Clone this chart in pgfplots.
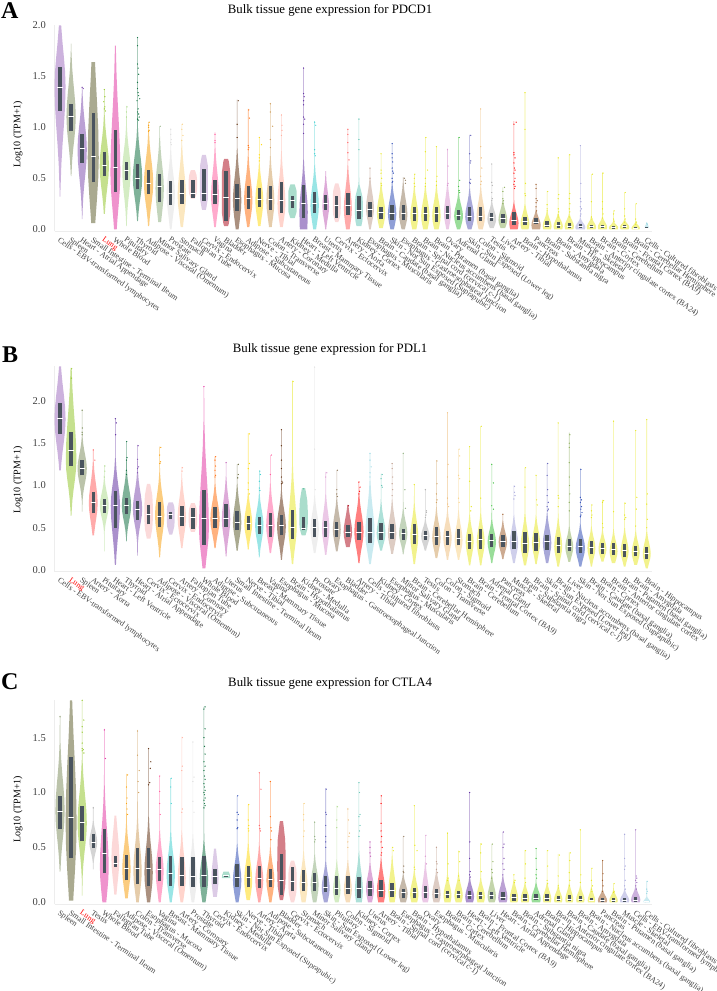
\documentclass[border=0pt]{standalone}
\usepackage{fontspec}
\setmainfont{Liberation Serif}
\usepackage{pgfplots}
\usepackage{pgfplotstable}
\pgfplotsset{compat=1.18}

% tissue colours
\definecolor{ebv}{HTML}{9966BB}\definecolor{spl}{HTML}{778855}\definecolor{haa}{HTML}{7744AA}
\definecolor{sit}{HTML}{555522}\definecolor{lng}{HTML}{8CC21E}\definecolor{wbl}{HTML}{E0289B}
\definecolor{pit}{HTML}{AAD988}\definecolor{thy}{HTML}{006633}\definecolor{adv}{HTML}{F79A00}
\definecolor{msg}{HTML}{88AA77}\definecolor{pro}{HTML}{DDDDDD}\definecolor{sto}{HTML}{F7CF80}
\definecolor{fal}{HTML}{F9B1B1}\definecolor{end}{HTML}{B998CE}\definecolor{vag}{HTML}{FF5599}
\definecolor{bla}{HTML}{AA0011}\definecolor{muc}{HTML}{552200}\definecolor{ads}{HTML}{FF6600}
\definecolor{ner}{HTML}{FFD700}\definecolor{cot}{HTML}{CC9955}\definecolor{cor}{HTML}{FFAA99}
\definecolor{kim}{HTML}{55BB99}\definecolor{lve}{HTML}{552299}\definecolor{bre}{HTML}{33CCCC}
\definecolor{ute}{HTML}{BB55B1}\definecolor{ect}{HTML}{F8B5B5}\definecolor{aor}{HTML}{FF5555}
\definecolor{kic}{HTML}{5BC1B1}\definecolor{mus}{HTML}{BB9988}\definecolor{gej}{HTML}{8B7355}
\definecolor{bra}{HTML}{E5E519}\definecolor{nse}{HTML}{2040B0}\definecolor{ova}{HTML}{D791CD}
\definecolor{adr}{HTML}{33BB33}\definecolor{sse}{HTML}{5151B1}\definecolor{cos}{HTML}{EEBB77}
\definecolor{tes}{HTML}{AAAAAA}\definecolor{liv}{HTML}{88AA55}\definecolor{tib}{HTML}{FF0000}
\definecolor{pan}{HTML}{995522}\definecolor{skm}{HTML}{9F9FD7}\definecolor{fib}{HTML}{93D5E1}
\definecolor{boxc}{HTML}{4A545E}

% lo/hi: ends of the violin, mo: widest level, hw: half width, sl/su: spread below/above, qa/med/qc: box
\pgfplotstableread{
c lo hi mo hw sl su p qa med qc
ebv .32 2.0 1.4 .5 .4 .3 2 1.16 1.39 1.59
spl .52 1.82 1.1 .42 .22 .25 2 .96 1.11 1.23
haa .10 1.40 .78 .42 .24 .22 2 .65 .79 .93
sit .06 1.64 .7 .5 .4 .55 2 .46 .71 1.14
lng .15 1.37 .62 .42 .2 .2 2 .52 .63 .76
wbl 0 1.80 .55 .45 .3 .5 2 .37 .61 .97
pit .03 1.21 .57 .38 .2 .18 2 .48 .58 .66
thy .08 1.88 .5 .42 .17 .2 2 .39 .50 .64
adv .03 1.05 .45 .42 .18 .2 2 .35 .45 .58
msg .07 1.01 .4 .38 .2 .2 2 .27 .42 .54
pro 0 .99 .34 .38 .17 .18 2 .24 .35 .47
sto .02 1.03 .33 .38 .17 .2 2 .25 .35 .48
fal .30 .58 .44 .38 .15 .15 4 .31 .35 .48
end .19 .73 .46 .36 .28 .28 6 .28 .35 .59
vag .02 .95 .32 .36 .15 .2 2 .25 .34 .48
bla .03 .69 .36 .38 .34 .34 8 .08 .31 .57
muc 0 1.27 .28 .38 .17 .2 2 .18 .30 .44
ads .02 1.18 .28 .38 .14 .18 2 .20 .30 .42
ner .03 .90 .28 .36 .14 .15 2 .22 .29 .40
cot .02 1.24 .27 .36 .15 .18 2 .19 .29 .42
cor .02 1.13 .25 .36 .14 .2 2 .16 .28 .46
kim .11 .44 .27 .38 .17 .18 6 .21 .28 .33
lve 0 1.59 .17 .38 .3 .2 2 .11 .25 .43
bre 0 1.06 .23 .38 .14 .16 2 .16 .25 .37
ute 0 .57 .22 .3 .1 .13 2 .19 .25 .34
ect .07 .45 .26 .36 .19 .19 5 .11 .23 .33
aor 0 .98 .2 .36 .14 .17 2 .14 .23 .36
kic .03 1.09 .2 .36 .2 .2 4 .10 .19 .33
mus 0 .60 .2 .36 .1 .13 2 .12 .20 .27
bra .01 .745 .16 .38 .1 .12 2 .10 .17 .22
nse 0 .84 .15 .38 .1 .12 2 .09 .16 .24
gej 0 .51 .14 .38 .09 .13 2 .09 .16 .235
bra 0 .54 .13 .36 .1 .12 2 .08 .16 .22
bra 0 .90 .13 .38 .1 .12 2 .085 .16 .22
bra 0 .81 .13 .38 .1 .12 2 .075 .16 .22
ova 0 .79 .15 .32 .09 .13 2 .10 .16 .23
adr 0 .90 .13 .4 .08 .09 2 .09 .14 .19
sse 0 .925 .12 .4 .08 .11 2 .085 .13 .22
cos 0 1.18 .12 .38 .09 .12 2 .085 .13 .22
tes .01 .64 .1 .4 .06 .07 2 .085 .12 .16
liv .01 .41 .09 .4 .06 .08 2 .065 .11 .15
tib 0 1.06 .06 .42 .08 .08 2 .04 .085 .17
bra 0 1.34 .05 .4 .06 .08 2 .04 .075 .12
pan 0 .44 .04 .42 .06 .06 2 .05 .065 .11
bra 0 .375 .03 .4 .05 .06 2 .02 .035 .08
bra 0 .70 .03 .42 .05 .05 2 .01 .04 .07
bra 0 .735 .03 .42 .05 .05 2 .01 .03 .06
skm 0 .82 .02 .45 .04 .035 2 .01 .025 .05
bra 0 .54 .02 .42 .04 .04 2 .01 .025 .04
bra 0 .555 .02 .42 .04 .04 2 .01 .025 .04
bra 0 .18 .015 .42 .03 .025 2 .005 .015 .03
bra 0 .36 .02 .42 .03 .03 2 .01 .025 .04
bra 0 .25 .01 .38 .02 .025 2 0 .01 .025
fib .01 .06 .02 .18 .02 .02 2 .01 .012 .02
}\tabA

\pgfplotstableread{
c lo hi mo hw sl su p qa med qc
ebv 1.18 2.41 1.78 .5 .27 .3 2 1.61 1.79 1.97
lng .64 2.39 1.3 .48 .25 .45 2 1.23 1.41 1.63
spl .69 1.90 1.2 .42 .15 .15 2 1.12 1.20 1.30
aor .41 1.43 .79 .4 .18 .2 2 .67 .80 .92
pit .22 1.24 .76 .4 .12 .13 2 .68 .77 .84
lve .06 1.79 .76 .42 .3 .22 2 .50 .77 .93
thy .34 1.52 .76 .42 .15 .17 2 .66 .77 .85
haa .17 1.48 .72 .42 .16 .18 2 .59 .72 .82
ect .37 1.02 .68 .38 .32 .34 4 .54 .66 .77
adv .15 1.46 .65 .42 .2 .2 2 .51 .64 .80
end .42 .80 .65 .36 .23 .17 4 .60 .655 .69
cor .26 1.22 .62 .38 .17 .19 2 .52 .63 .76
fal .45 .79 .62 .38 .18 .18 4 .49 .62 .73
wbl .02 2.17 .5 .45 .27 .5 2 .30 .61 .95
ads .26 1.34 .6 .42 .15 .17 2 .50 .61 .75
ute .16 1.28 .6 .38 .18 .2 2 .51 .61 .78
sit .23 1.25 .56 .38 .15 .18 2 .47 .56 .70
ner .24 1.62 .55 .36 .13 .15 2 .47 .55 .64
bre .15 1.18 .53 .38 .15 .15 2 .43 .53 .63
vag .2 1.36 .52 .38 .15 .2 2 .39 .53 .68
muc .12 1.66 .52 .4 .17 .17 2 .41 .53 .65
bra .07 2.24 .5 .38 .2 .3 2 .37 .51 .71
kim .41 .97 .6 .38 .2 .37 4 .47 .49 .63
pro .2 2.41 .48 .38 .14 .16 2 .39 .50 .60
ova .18 1.16 .49 .34 .15 .17 2 .39 .50 .58
gej .22 1.18 .48 .36 .13 .15 2 .39 .48 .57
bla .27 .77 .45 .38 .12 .14 2 .39 .45 .53
tib .08 1.045 .45 .42 .16 .18 2 .35 .45 .57
fib .07 1.38 .42 .42 .17 .26 2 .32 .45 .62
kic .23 1.14 .43 .4 .1 .15 2 .355 .44 .56
mus .19 1.26 .43 .38 .12 .16 2 .37 .44 .55
msg .185 1.38 .43 .38 .1 .12 2 .355 .43 .48
bra .07 1.01 .4 .36 .16 .16 2 .31 .42 .54
tes .23 .96 .4 .38 .08 .08 2 .355 .41 .46
cot .14 1.30 .38 .38 .12 .14 2 .30 .40 .505
cos .12 1.86 .38 .38 .12 .13 2 .30 .395 .465
sto .12 1.43 .35 .36 .11 .14 2 .29 .37 .49
bra .055 1.46 .33 .36 .13 .13 2 .25 .335 .43
bra .055 1.70 .33 .36 .13 .14 2 .25 .36 .48
adr .08 1.25 .33 .38 .11 .11 2 .275 .35 .43
pan .13 .66 .33 .38 .09 .1 2 .27 .335 .415
skm .08 1.0 .32 .38 .12 .13 2 .245 .335 .46
bra .055 1.21 .3 .38 .13 .15 2 .205 .32 .45
bra .07 1.12 .32 .36 .12 .13 2 .23 .325 .44
sse .08 1.26 .32 .38 .13 .14 2 .235 .335 .415
bra .04 1.74 .28 .36 .12 .14 2 .205 .295 .395
liv .095 1.625 .27 .36 .09 .1 2 .23 .285 .37
nse .04 1.2 .26 .42 .11 .11 2 .205 .275 .365
bra .04 .77 .26 .36 .1 .1 2 .195 .27 .345
bra .10 .83 .25 .36 .08 .09 2 .195 .255 .315
bra .08 1.77 .22 .36 .09 .1 2 .175 .245 .32
bra .04 .80 .22 .36 .09 .11 2 .15 .23 .31
bra .06 1.65 .21 .36 .09 .1 2 .16 .215 .28
bra .02 1.78 .19 .36 .09 .11 2 .13 .20 .27
}\tabB

\pgfplotstableread{
c lo hi mo hw sl su p qa med qc
spl .28 1.70 .83 .42 .22 .25 2 .67 .83 .97
sit .015 1.84 .72 .5 .45 .55 2 .40 .77 1.32
lng .06 1.84 .72 .42 .2 .23 2 .56 .73 .88
tes .30 .87 .55 .36 .08 .08 2 .495 .55 .62
wbl 0 1.58 .32 .4 .22 .3 2 .27 .45 .67
fal .07 .79 .4 .36 .18 .2 2 .325 .355 .42
adv .035 1.17 .3 .38 .15 .17 2 .20 .31 .43
cot 0 1.57 .28 .38 .16 .2 2 .17 .31 .495
muc 0 1.40 .27 .38 .17 .2 2 .15 .31 .495
vag 0 1.15 .28 .36 .15 .15 2 .19 .30 .41
bre 0 1.13 .25 .38 .13 .16 2 .15 .265 .42
cor 0 1.51 .22 .36 .13 .17 2 .15 .25 .41
pro 0 1.46 .22 .36 .13 .16 2 .14 .24 .41
thy 0 1.78 .22 .38 .14 .14 2 .135 .245 .42
end .05 .49 .22 .32 .13 .15 2 .165 .235 .30
kim .22 .28 .225 .38 .03 .05 2 .23 .245 .25
nse 0 .97 .2 .38 .12 .13 2 .14 .23 .35
ner .02 .89 .2 .36 .12 .14 2 .135 .23 .335
aor 0 1.18 .2 .36 .11 .13 2 .13 .22 .33
ads 0 1.10 .2 .36 .11 .12 2 .135 .21 .30
bla .02 .74 .32 .38 .3 .42 4 .07 .20 .44
ect 0 .38 .2 .38 .2 .18 4 .10 .19 .32
sto 0 .90 .16 .36 .12 .12 2 .10 .185 .29
msg 0 .735 .16 .36 .11 .11 2 .10 .18 .27
sse 0 1.04 .13 .36 .09 .1 2 .09 .14 .24
pit 0 .88 .11 .34 .08 .11 2 .065 .13 .24
cos 0 .86 .11 .36 .08 .11 2 .075 .13 .24
kic 0 1.09 .11 .36 .12 .14 2 .04 .125 .23
ute 0 .55 .12 .36 .09 .1 2 .06 .13 .195
tib 0 .97 .1 .38 .1 .12 2 .05 .11 .20
bra 0 .50 .1 .34 .1 .13 2 .05 .105 .18
gej 0 .60 .08 .4 .07 .07 2 .035 .095 .12
bra 0 .88 .07 .38 .07 .09 2 .035 .09 .13
ova 0 .61 .07 .34 .07 .12 2 .035 .09 .15
mus 0 .51 .07 .38 .07 .09 2 .035 .08 .12
bra 0 .63 .06 .36 .07 .08 2 .035 .075 .10
bra 0 .47 .06 .38 .06 .08 2 .035 .07 .105
lve 0 1.0 .05 .4 .06 .07 2 .03 .065 .10
bra 0 .54 .05 .38 .06 .07 2 .03 .06 .09
liv 0 .53 .05 .38 .05 .08 2 .03 .06 .095
haa 0 .64 .04 .42 .05 .08 2 .02 .045 .095
bra 0 .255 .035 .38 .05 .07 2 .015 .045 .08
bra 0 .475 .03 .38 .05 .06 2 .015 .04 .08
adr 0 .49 .03 .42 .05 .06 2 .02 .04 .08
bra 0 .475 .03 .38 .05 .06 2 .015 .035 .075
bra 0 .44 .025 .38 .04 .05 2 .015 .03 .06
bra 0 .455 .025 .36 .04 .06 2 .015 .03 .065
bra 0 .665 .025 .38 .04 .05 2 .015 .03 .06
bra 0 .31 .015 .34 .03 .05 2 .01 .015 .04
pan 0 .385 .015 .42 .03 .04 2 .005 .015 .04
bra 0 .17 .015 .38 .03 .04 2 .005 .015 .035
skm 0 .62 .015 .42 .03 .04 2 .005 .015 .035
ebv 0 .66 .02 .42 .03 .05 2 .005 .02 .05
fib 0 .195 .005 .3 .01 .02 2 0 .005 .015
}\tabC

\newcommand\addpt[1]{%
  \pgfmathsetmacro\yy{#1}%
  \pgfmathsetmacro\dd{abs(\yy-\vmo)/(\yy<\vmo?\vsl:\vsu)/\kk}%
  \pgfmathsetmacro\ww{max(\vhw*exp(-min(pow(\dd,\vp),9)),0.025)}%
  \pgfmathsetmacro\xl{\i-\ww}\pgfmathsetmacro\xr{\i+\ww}%
  \xdef\ptsL{\ptsL(\xl,\yy)}\xdef\ptsR{(\xr,\yy)\ptsR}}
\newcommand\violins[1]{%
  \def\getcol##1{\pgfplotstablegetelem{\i}{##1}\of#1\expandafter\let\csname v##1\endcsname\pgfplotsretval}%
  \foreach \i in {0,...,53}{%
    \getcol{c}\getcol{lo}\getcol{hi}\getcol{mo}\getcol{hw}\getcol{sl}\getcol{su}\getcol{p}\getcol{qa}\getcol{med}\getcol{qc}%
    \pgfmathsetmacro\kk{\vp==2?1.6:1}%
    \gdef\ptsL{}\gdef\ptsR{}%
    \addpt{\vlo}%
    \foreach \t in {2.5,2,1.6,1.2,.9,.6,.3}{\pgfmathsetmacro\ty{\vmo-\kk*\vsl*\t}\pgfmathtruncatemacro\ok{\ty>\vlo?1:0}\ifnum\ok=1 \addpt{\ty}\fi}%
    \addpt{\vmo}%
    \foreach \t in {.3,.6,.9,1.2,1.6,2,2.5,3}{\pgfmathsetmacro\ty{\vmo+\kk*\vsu*\t}\pgfmathtruncatemacro\ok{\ty<\vhi?1:0}\ifnum\ok=1 \addpt{\ty}\fi}%
    \addpt{\vhi}%
    \pgfmathsetmacro\ma{\i-.24}\pgfmathsetmacro\mb{\i+.24}%
    \edef\doplot{%
      \noexpand\addplot[forget plot,draw=none,fill=\vc,fill opacity=.5] coordinates {\ptsL\ptsR} --cycle;
      \noexpand\addplot[forget plot,draw=boxc,line width=3.4pt] coordinates {(\i,\vqa)(\i,\vqc)};
      \noexpand\addplot[forget plot,draw=white,line width=.7pt] coordinates {(\ma,\vmed)(\mb,\vmed)};}%
    \doplot
  }}
\newcommand\pts[2]{\addplot[forget plot,only marks,mark=*,mark size=.42pt,color=#1,opacity=.75] coordinates {#2};}

\pgfplotsset{
  panel/.style={
    scale only axis,width=597.8pt,clip=false,
    xmin=-.5,xmax=53.5,ymin=-.02,
    axis lines=left,axis line style={draw=black!7,-},
    tick style={draw=none},xtick={0,...,53},
    ylabel={Log10 (TPM+1)},
    /pgf/number format/assume math mode=true,
    yticklabel style={font=\fontsize{10.5}{11}\selectfont,text=black!75,
      /pgf/number format/fixed,/pgf/number format/fixed zerofill,/pgf/number format/precision=1,xshift=-3pt},
    xticklabel style={font=\fontsize{8}{8}\selectfont,text=black!75,rotate=-35,anchor=north west,inner sep=0pt,yshift=-2pt,xshift=2pt},
    ylabel style={font=\fontsize{11}{12}\selectfont,text=black!85},
    title style={font=\fontsize{12.8}{13}\selectfont,anchor=center,yshift=0pt},
  }}

\begin{document}
\begin{tikzpicture}[x=1pt,y=1pt]
\useasboundingbox (0,0) rectangle (717,991);
\node[anchor=base west,font=\fontsize{24}{24}\selectfont\bfseries,inner sep=0pt] at (1,991-19) {A};
\node[anchor=base west,font=\fontsize{24}{24}\selectfont\bfseries,inner sep=0pt] at (2,991-363) {B};
\node[anchor=base west,font=\fontsize{24}{24}\selectfont\bfseries,inner sep=0pt] at (1,991-690) {C};

\begin{axis}[panel,at={(54.5pt,759.7pt)},height=206pt,ymax=2.0,ytick={0,.5,1,1.5,2},
  title={Bulk tissue gene expression for PDCD1},
  title style={at={(axis description cs:.461,1.045)}},
  every axis y label/.style={at={(axis description cs:-.061,.472)},rotate=90,anchor=center},
  xticklabels={Cells - EBV-transformed lymphocytes,Spleen,Heart - Atrial Appendage,Small Intestine - Terminal Ileum,\textcolor{red}{Lung},Whole Blood,Pituitary,Thyroid,Adipose - Visceral (Omentum),Minor Salivary Gland,Prostate,Stomach,Fallopian Tube,Cervix - Endocervix,Vagina,Bladder,Esophagus - Mucosa,Adipose - Subcutaneous,Nerve - Tibial,Colon - Transverse,Artery - Coronary,Kidney - Medulla,Heart - Left Ventricle,Breast - Mammary Tissue,Uterus,Cervix - Ectocervix,Artery - Aorta,Kidney - Cortex,Esophagus - Muscularis,Brain - Caudate (basal ganglia),Skin - Not Sun Exposed (Suprapubic),Esophagus - Gastroesophageal Junction,Brain - Spinal cord (cervical c-1),Brain - Nucleus accumbens (basal ganglia),Brain - Putamen (basal ganglia),Ovary,Adrenal Gland,Skin - Sun Exposed (Lower leg),Colon - Sigmoid,Testis,Liver,Artery - Tibial,Brain - Hypothalamus,Pancreas,Brain - Substantia nigra,Brain - Amygdala,Brain - Hippocampus,Muscle - Skeletal,Brain - Anterior cingulate cortex (BA24),Brain - Cortex,Brain - Cerebellum,Brain - Frontal Cortex (BA9),Brain - Cerebellar Hemisphere,Cells - Cultured fibroblasts}]
\violins{\tabA}
\pts{haa}{(2,1.39)(2.1,1.38)}
\pts{lng}{(4,1.37)(4.05,1.3)(3.95,1.25)(4.05,1.2)(4,1.18)(4.1,1.16)}
\pts{pit}{(6.05,1.2)(6,1.15)(6,1.1)}
\pts{thy}{(7,1.88)(7,1.8)(7,1.62)(7.05,1.58)(7.1,1.52)(7,1.44)(7,1.38)(7.05,1.34)(7.1,1.31)(7.2,1.28)(6.95,1.26)(7.05,1.18)(7,1.15)(7.1,1.13)(7.15,1.1)(7,1.08)(7.1,1.07)}
\pts{adv}{(8.05,1.05)(8,1.02)(8,1.0)(8.05,.97)(8,.96)}
\pts{msg}{(9.05,1.01)}
\pts{pro}{(10,.98)(10,.93)(10.05,.88)(10,.85)(10.05,.83)}
\pts{sto}{(11.05,1.03)(11,.98)(11.1,.92)(11,.87)}
\pts{vag}{(14,.93)(14,.87)(14,.85)}
\pts{muc}{(16.1,1.26)(16,1.03)(16,.9)}
\pts{ads}{(17.05,1.17)(17.1,1.09)(17,.82)(17.05,.8)(17,.78)}
\pts{ner}{(18,.9)(18.2,.83)(18,.73)(18,.7)(18,.67)}
\pts{cot}{(19,1.23)(19,1.15)(19.2,1.01)(19,.88)(19,.8)}
\pts{cor}{(20,1.12)(20.05,1.02)(20.05,.97)(20,.92)}
\pts{lve}{(22,1.58)(22,1.33)(22.05,1.3)(22,1.26)(22,1.22)(22,1.1)(22.1,1.08)(22,1.03)(22,.94)}
\pts{bre}{(23,1.05)(23.1,1.02)(23,.78)(23,.74)(23.05,.72)}
\pts{aor}{(26,.98)(26,.93)(26,.85)(26,.75)(26.1,.68)}
\pts{kic}{(27,1.08)(27,.88)(27,.78)}
\pts{mus}{(28,.6)(28,.5)}
\pts{bra}{(29,.74)(29,.58)(29,.55)(29.05,.5)(29,.45)(29.05,.43)}
\pts{nse}{(30,.84)(30,.74)(30,.7)(30.05,.66)(30,.6)(30.05,.57)(30.1,.55)(30,.5)(30.05,.47)(30,.46)}
\pts{gej}{(31.1,.5)(31.2,.48)(31.2,.45)}
\pts{bra}{(32.05,.54)(32,.5)(32,.45)(32.05,.42)}
\pts{bra}{(33.05,.9)(33,.76)(33.2,.58)(33,.5)(33,.45)(33,.42)}
\pts{bra}{(34,.81)(34.05,.52)(34,.47)(34,.43)}
\pts{ova}{(35,.78)(35.05,.62)(35.05,.45)(35,.43)}
\pts{adr}{(36.05,.9)(36.1,.48)(36,.42)(36.05,.38)(36.1,.36)}
\pts{sse}{(37.1,.92)(37,.74)(37.1,.67)(37.05,.65)(37.1,.49)(37,.46)(37.05,.45)}
\pts{cos}{(38,1.18)(38,.81)(38.05,.7)(38.1,.6)(38,.52)(38.05,.47)(38,.44)}
\pts{tes}{(39,.64)(39,.46)(39.05,.43)(39,.36)(39.05,.3)(39,.28)}
\pts{liv}{(40.15,.41)(40,.37)(40,.3)(40.05,.28)(40,.25)}
\pts{tib}{(41.2,1.05)(41,1.03)(41,.75)(41,.73)(41.1,.7)(41,.65)(41.05,.6)(41.1,.58)(41,.55)(41.1,.5)(41.05,.47)(41,.44)(41.1,.42)(41.05,.4)}
\pts{bra}{(42,1.34)(42,.98)(42.05,.45)(42,.35)(42.05,.33)}
\pts{pan}{(43,.44)(43,.4)(43,.3)(43.1,.28)(43,.26)(43,.22)(43.05,.18)}
\pts{bra}{(44.05,.37)(44,.24)(44,.2)(44,.18)}
\pts{bra}{(45,.7)(45.05,.34)(45,.3)(45,.2)(45.05,.17)(45,.14)(45,.12)}
\pts{bra}{(46.05,.73)(46.05,.35)(46,.3)(46.05,.25)(46,.2)(46.05,.17)(46,.12)}
\pts{skm}{(47,.82)(47.05,.45)(47,.3)(47.05,.27)(47,.22)(47.1,.2)(47,.18)(47.05,.15)(47,.13)}
\pts{bra}{(48.1,.54)(48,.27)(48,.12)(48.05,.1)}
\pts{bra}{(49.05,.55)(49,.27)(49,.2)(49.05,.15)(49,.11)}
\pts{bra}{(50.05,.18)(50,.15)(50,.1)(50.05,.08)}
\pts{bra}{(51.05,.36)(51,.2)(51,.13)(51.05,.1)(51,.07)}
\pts{bra}{(52.05,.25)(52,.1)(52.05,.07)(52,.05)}
\pts{fib}{(53,.06)(53.05,.05)}
\end{axis}

\begin{axis}[panel,at={(54.5pt,419.3pt)},height=205.4pt,ymax=2.41,ytick={0,.5,1,1.5,2},
  title={Bulk tissue gene expression for PDL1},
  title style={at={(axis description cs:.461,1.055)}},
  every axis y label/.style={at={(axis description cs:-.061,.447)},rotate=90,anchor=center},
  xticklabels={Cells - EBV-transformed lymphocytes,\textcolor{red}{Lung},Spleen,Artery - Aorta,Pituitary,Heart - Left Ventricle,Thyroid,Heart - Atrial Appendage,Cervix - Ectocervix,Adipose - Visceral (Omentum),Cervix - Endocervix,Artery - Coronary,Fallopian Tube,Whole Blood,Adipose - Subcutaneous,Uterus,Small Intestine - Terminal Ileum,Nerve - Tibial,Breast - Mammary Tissue,Vagina,Esophagus - Mucosa,Brain - Hypothalamus,Kidney - Medulla,Prostate,Ovary,Esophagus - Gastroesophageal Junction,Bladder,Artery - Tibial,Cells - Cultured fibroblasts,Kidney - Cortex,Esophagus - Muscularis,Minor Salivary Gland,Brain - Cerebellar Hemisphere,Testis,Colon - Transverse,Colon - Sigmoid,Stomach,Brain - Cerebellum,Brain - Frontal Cortex (BA9),Adrenal Gland,Pancreas,Muscle - Skeletal,Brain - Substantia nigra,Brain - Spinal cord (cervical c-1),Skin - Sun Exposed (Lower leg),Brain - Nucleus accumbens (basal ganglia),Liver,Skin - Not Sun Exposed (Suprapubic),Brain - Caudate (basal ganglia),Brain - Cortex,Brain - Anterior cingulate cortex,Brain - Putamen (basal ganglia),Brain - Amygdala,Brain - Hippocampus}]
\violins{\tabB}
\pts{lng}{(1.05,2.38)(1.02,2.27)}
\pts{spl}{(2,1.89)(2.02,1.68)(2,1.63)(2,1.6)}
\pts{aor}{(3,1.42)(3.15,1.3)}
\pts{pit}{(4.05,1.23)(4.05,1.17)(4,1.1)}
\pts{lve}{(5,1.79)(5.08,1.74)(5.02,1.6)}
\pts{thy}{(6.02,1.52)(6.05,1.33)(6,1.3)(6,1.18)(6,1.13)}
\pts{haa}{(7.05,1.47)(7,1.31)(7.1,1.22)(7,1.2)(7,1.15)}
\pts{adv}{(9.1,1.45)(9,1.36)(9.08,1.28)(9.02,1.26)}
\pts{cor}{(11.05,1.21)(11.02,1.17)}
\pts{wbl}{(13,2.17)}
\pts{ads}{(14.05,1.34)(14,1.3)(14.05,1.23)(14,1.18)(14.05,1.12)(14,1.1)}
\pts{ute}{(15,1.27)}
\pts{sit}{(16.1,1.25)(16.1,1.13)(16.05,1.09)}
\pts{ner}{(17.1,1.61)(17.1,1.26)(17,1.2)(17,1.03)(17,.95)(17.1,.9)}
\pts{bre}{(18.05,1.17)(18.1,1.13)(18,1.05)(18,.97)(18.05,.94)}
\pts{vag}{(19.1,1.36)(19,1.13)}
\pts{muc}{(20,1.66)(20,1.47)(20,1.3)(20,1.2)(20,1.1)(20.05,1.05)(20.1,1.03)(20,1.02)}
\pts{bra}{(21.05,2.23)}
\pts{kim}{(22,.96)}
\pts{pro}{(23,2.4)(23,1.43)(23.05,.95)}
\pts{ova}{(24.1,1.15)(24,1.1)}
\pts{gej}{(25.05,1.18)(25,.95)(25,.9)(25.05,.87)}
\pts{bla}{(26.05,.76)}
\pts{tib}{(27,1.04)(27.1,.98)(27.05,.93)(27,.9)}
\pts{fib}{(28,1.38)(28,1.3)(28.1,1.22)(28,1.15)(28,1.1)}
\pts{kic}{(29.1,1.13)(29,1.08)(29.05,1.0)(29.1,.98)}
\pts{mus}{(30,1.26)(30,1.2)(30.05,1.1)(30,1.02)(30.05,.95)(30,.88)}
\pts{msg}{(31,1.38)(31.15,.95)(31.2,.73)}
\pts{bra}{(32,1.01)}
\pts{tes}{(33,.95)(33.1,.7)(33.1,.68)(33.05,.65)(33,.62)}
\pts{cot}{(34.05,1.29)(34.05,1.02)(34,.9)(34.05,.83)(34,.8)}
\pts{cos}{(35,1.86)(35.05,1.25)(35,1.1)(35,.85)(35.02,.78)(35.1,.75)}
\pts{sto}{(36.05,1.43)(36.1,1.35)(36,1.12)(36.1,1.08)(36,.85)(36.05,.8)}
\pts{bra}{(37,1.46)(37,1.2)(37,1.05)(37.15,.75)(37.1,.7)}
\pts{bra}{(38.05,1.7)(38,.85)}
\pts{adr}{(39,1.25)(39.15,1.03)(39,.76)(39.15,.72)}
\pts{pan}{(40,.66)}
\pts{skm}{(41.05,.99)(41.05,.92)(41.1,.88)(41,.84)}
\pts{bra}{(42.05,1.21)(42,.98)}
\pts{bra}{(43,1.12)(43.05,.83)(43.1,.77)}
\pts{sse}{(44.05,1.26)(44,1.12)(44.05,.95)(44,.88)(44.1,.8)(44,.75)(44.1,.72)(44.05,.7)}
\pts{bra}{(45,1.74)(45,.88)(45.05,.85)(45,.75)}
\pts{liv}{(46.05,1.6)(46,1.5)(46,1.45)(46,1.27)(46,1.1)(46.02,1.0)(46.05,.9)(46,.8)(46,.7)}
\pts{nse}{(47.05,1.19)(47,.86)(47.1,.83)(47,.8)(47.1,.75)(47.05,.72)(47.15,.68)(47.05,.65)(47,.63)}
\pts{bra}{(48.05,.77)(48,.7)(48.05,.65)(48,.62)}
\pts{bra}{(49.1,.82)(49,.8)(49,.55)(49.05,.5)}
\pts{bra}{(50,1.76)(50,.69)}
\pts{bra}{(51.05,.79)(51,.65)(51.1,.62)(51,.6)}
\pts{bra}{(52,1.65)(52.1,.86)(52.05,.72)(52,.52)}
\pts{bra}{(53,1.78)(53.05,.9)(53,.78)(53.05,.6)(53,.5)}
\end{axis}

\begin{axis}[panel,at={(54.5pt,86.5pt)},height=204.2pt,ymax=1.84,ytick={0,.5,1,1.5},
  title={Bulk tissue gene expression for CTLA4},
  title style={at={(axis description cs:.461,1.055)}},
  every axis y label/.style={at={(axis description cs:-.061,.467)},rotate=90,anchor=center},
  xticklabels={Spleen,Small Intestine - Terminal Ileum,\textcolor{red}{Lung},Testis,Whole Blood,Fallopian Tube,Adipose - Visceral (Omentum),Colon - Transverse,Esophagus - Mucosa,Vagina,Breast - Mammary Tissue,Artery - Coronary,Prostate,Thyroid,Cervix - Endocervix,Kidney - Medulla,Skin - Not Sun Exposed (Suprapubic),Nerve - Tibial,Artery - Aorta,Adipose - Subcutaneous,Bladder,Cervix - Ectocervix,Stomach,Minor Salivary Gland,Skin - Sun Exposed (Lower leg),Pituitary,Colon - Sigmoid,Kidney - Cortex,Uterus,Artery - Tibial,Brain - Spinal cord (cervical c-1),Esophagus - Gastroesophageal Junction,Brain - Hypothalamus,Ovary,Esophagus - Muscularis,Brain - Cortex,Brain - Cerebellum,Heart - Left Ventricle,Brain - Frontal Cortex (BA9),Liver,Heart - Atrial Appendage,Brain - Cerebellar Hemisphere,Brain - Substantia nigra,Adrenal Gland,Brain - Hippocampus,Brain - Anterior cingulate cortex (BA24),Brain - Caudate (basal ganglia),Brain - Amygdala,Brain - Nucleus accumbens (basal ganglia),Pancreas,Brain - Putamen (basal ganglia),Muscle - Skeletal,Cells - EBV-transformed lymphocytes,Cells - Cultured fibroblasts}]
\violins{\tabC}
\pts{spl}{(0,1.69)}
\pts{lng}{(2,1.84)(2.15,1.66)(2,1.6)(2,1.55)(2,1.45)(2,1.4)(2.1,1.39)(2,1.38)(2.15,1.36)}
\pts{tes}{(3,.86)}
\pts{wbl}{(4,1.57)(4.1,1.31)}
\pts{adv}{(6.1,1.16)(6,1.05)(6.05,.95)(6,.9)(6.05,.85)(6.1,.8)}
\pts{cot}{(7,1.56)(7,1.34)(7.15,1.2)(7.05,1.1)(7.1,1.0)}
\pts{muc}{(8,1.4)(8.2,1.28)(8.15,1.22)(8.1,1.09)(8,1.07)}
\pts{vag}{(9,1.15)(9,1.01)(9,.9)(9.05,.8)}
\pts{bre}{(10.05,1.13)(10,1.05)(10.05,.9)}
\pts{cor}{(11.05,1.5)(11.05,1.24)(11,1.2)(11.05,.85)(11,.82)}
\pts{pro}{(12,1.46)(12.1,1.14)(12,1.1)(12,.92)(12.1,.82)}
\pts{thy}{(13.1,1.78)(13,1.76)(13.1,1.58)(13,1.5)(13.05,1.42)(13.1,1.35)(13,1.28)(13.1,1.24)(13,1.2)(13.05,1.15)(13.1,1.12)(13,1.08)(13.05,1.05)(13.1,1.02)(13,1.0)(13.05,.98)(13.1,.95)(13,.93)(13.05,.9)(13.1,.88)(13,.86)}
\pts{nse}{(16.05,.97)(16,.82)(16.1,.8)(16,.75)(16.05,.68)(16,.67)}
\pts{ner}{(17.05,.89)(17,.75)(17.05,.7)(17,.67)(17.05,.65)}
\pts{aor}{(18,1.18)(18.15,1.03)(18,.7)(18.05,.67)(18.1,.65)}
\pts{ads}{(19,1.1)(19,.78)(19.05,.68)(19.1,.65)(19.05,.57)}
\pts{sto}{(22.05,.9)(22,.8)(22,.75)(22.05,.65)(22,.6)}
\pts{msg}{(23,.73)(23,.6)(23.05,.57)(23,.55)}
\pts{sse}{(24.05,1.03)(24,.82)(24.05,.8)(24,.7)(24,.6)(24,.55)(24,.5)}
\pts{pit}{(25.05,.87)(25,.75)(25,.68)}
\pts{cos}{(26,.85)(26.05,.75)(26.15,.63)(26.1,.6)(26,.55)(26,.5)}
\pts{kic}{(27,1.09)(27.05,1.0)(27.1,.8)(27,.78)(27.1,.7)(27.05,.65)(27,.6)}
\pts{ute}{(28,.55)(28,.5)(28,.45)(28.05,.42)}
\pts{tib}{(29.02,.97)(29,.9)(29,.72)(29,.65)(29.05,.6)(29,.55)(29.1,.5)(29.05,.45)(29,.43)}
\pts{bra}{(30.05,.5)(30.1,.47)}
\pts{gej}{(31.05,.6)(31.05,.33)(31,.28)(31.05,.27)}
\pts{bra}{(32,.88)(32.05,.52)(32.25,.47)(32,.32)(32.05,.3)}
\pts{ova}{(33.05,.61)(33,.42)(33.1,.35)}
\pts{mus}{(34,.5)(34,.37)(34.05,.35)(34,.3)(34.1,.27)}
\pts{bra}{(35,.63)(35.05,.35)(35.05,.22)(35,.2)}
\pts{bra}{(36.05,.46)(36.1,.37)(36,.24)(36.05,.2)}
\pts{lve}{(37,1.0)(37.02,.55)(37,.4)(37.05,.28)(37,.25)(37.05,.23)}
\pts{bra}{(38.05,.53)(38,.45)(38.05,.28)}
\pts{liv}{(39.05,.53)(39.1,.37)(39,.3)(39.05,.27)(39,.22)}
\pts{haa}{(40.05,.64)(40.1,.53)(40.02,.5)(40.1,.4)(40,.35)(40.1,.3)(40,.25)}
\pts{bra}{(41,.25)(41.1,.2)(41.05,.18)}
\pts{bra}{(42.05,.47)(42.05,.35)(42,.22)(42.05,.18)}
\pts{adr}{(43,.49)(43,.4)(43.05,.3)(43,.25)(43.05,.22)}
\pts{bra}{(44.05,.47)(44.05,.33)(44,.2)(44.05,.17)}
\pts{bra}{(45.1,.43)(45,.24)(45,.15)(45.05,.13)}
\pts{bra}{(46.1,.45)(46.05,.38)(46,.27)(46.05,.2)(46,.15)}
\pts{bra}{(47,.66)(47.05,.25)(47,.18)}
\pts{bra}{(48.05,.31)(48,.2)(48.1,.15)(48,.12)(48.05,.1)}
\pts{pan}{(49.02,.38)(49.05,.26)(49,.2)(49.05,.15)(49,.1)}
\pts{bra}{(50.05,.17)(50.05,.1)(50,.09)}
\pts{skm}{(51,.62)(51,.4)(51.05,.33)(51,.3)(51.05,.2)(51,.15)(51.05,.12)}
\pts{ebv}{(52,.66)(52.05,.24)(52.1,.22)(52,.2)(52.1,.18)(52,.15)(52.05,.12)}
\pts{fib}{(53.05,.19)(53,.12)(53.05,.1)(53,.08)}
\end{axis}
\end{tikzpicture}
\end{document}
